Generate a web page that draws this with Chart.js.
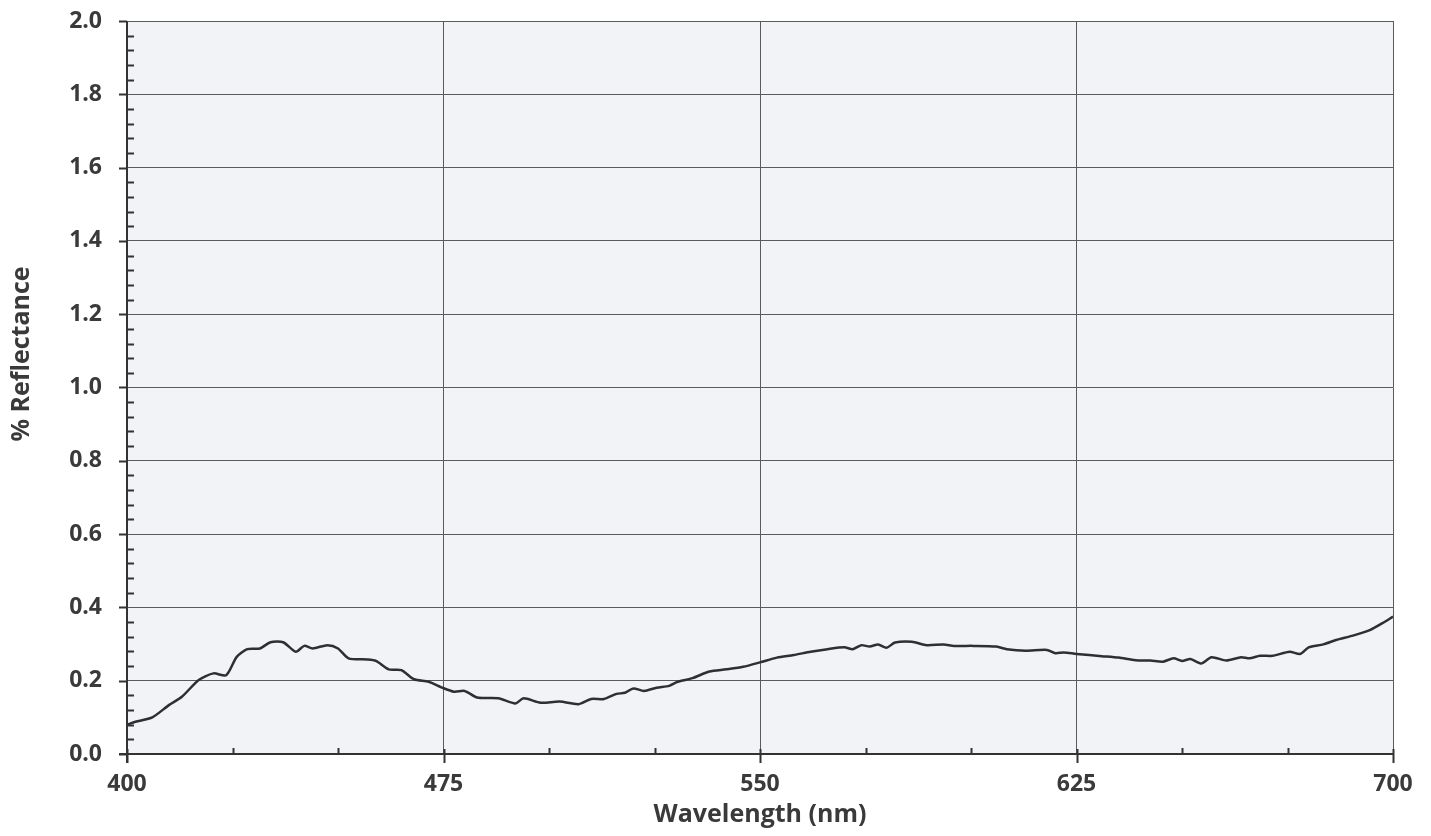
<!DOCTYPE html>
<html>
<head>
<meta charset="utf-8">
<title>% Reflectance</title>
<script src="https://cdn.jsdelivr.net/npm/chart.js@4"></script>
<style>
  html, body { margin: 0; padding: 0; background: #ffffff; }
  #wrap { width: 1431px; height: 836px; }
</style>
</head>
<body>
<div id="wrap"><canvas id="reflChart" width="1431" height="836"></canvas></div>
<script>
// wavelength (nm)
const wavelengths = [
  400, 402, 406, 410, 413, 417, 420.5, 423.5, 426, 428.5, 431.5, 434, 437, 440,
  442, 444, 447.5, 450, 452.5, 457, 459, 462, 465, 468, 471.5, 474.5, 477.5, 480,
  483, 488, 492, 494, 498, 502.5, 507, 510, 513, 516, 518, 520, 522.5, 525.5,
  528.5, 530.5, 534, 538, 542, 546, 550, 554, 558, 562, 566, 570, 572, 574, 576,
  578, 580, 582, 586, 589.5, 593.5, 596, 600.5, 606, 608.5, 613, 618, 620, 622,
  625, 631, 635, 639, 642.5, 645.5, 648, 650, 652, 654.5, 657, 660.5, 664, 666,
  668.5, 671.5, 675.5, 678, 680, 683.5, 686.5, 690.5, 694.5, 697.5, 700
];
// % reflectance at each wavelength
const reflectance = [
  0.080, 0.088, 0.100, 0.134, 0.156, 0.202, 0.220, 0.215, 0.265, 0.286, 0.288, 0.305, 0.305, 0.279,
  0.295, 0.288, 0.297, 0.288, 0.261, 0.258, 0.254, 0.231, 0.229, 0.204, 0.197, 0.182, 0.170, 0.172,
  0.154, 0.152, 0.138, 0.152, 0.140, 0.143, 0.136, 0.150, 0.150, 0.164, 0.167, 0.179, 0.172, 0.181,
  0.186, 0.197, 0.207, 0.225, 0.231, 0.238, 0.250, 0.263, 0.270, 0.279, 0.286, 0.291, 0.286, 0.297, 0.293,
  0.299, 0.290, 0.304, 0.306, 0.297, 0.299, 0.295, 0.295, 0.293, 0.286, 0.282, 0.284, 0.275, 0.277,
  0.273, 0.267, 0.263, 0.256, 0.255, 0.252, 0.261, 0.254, 0.259, 0.247, 0.264, 0.255, 0.264, 0.261,
  0.268, 0.268, 0.279, 0.273, 0.291, 0.299, 0.311, 0.323, 0.338, 0.357, 0.375
];
// axis ranges / tick steps
const xRange = [400, 700];
const xMajor = 75;
const xMinor = 25;
const yRange = [0, 2.0];
const yMajor = 0.2;
const yMinor = 0.04;

const textColor = "#3a3a3a";
const gridColor = "#5a5a5a";
const axisColor = "#333333";

const points = wavelengths.map((w, i) => ({ x: w, y: reflectance[i] }));

// Plot background, tick marks, axis lines and the y title
const frame = {
  id: "frame",
  beforeDraw(chart) {
    const { ctx, chartArea: a } = chart;
    ctx.save();
    ctx.fillStyle = "#f1f3f7";
    ctx.fillRect(a.left, a.top, a.right - a.left, a.bottom - a.top);
    ctx.restore();
  },
  afterDraw(chart) {
    const { ctx, chartArea: a, scales } = chart;
    const xs = scales.x, ys = scales.y;
    ctx.save();
    ctx.strokeStyle = axisColor;
    ctx.lineWidth = 2;
    // minor ticks on y (inside), major ticks (outside)
    for (let v = yRange[0]; v <= yRange[1] + 1e-9; v += yMinor) {
      const py = Math.round(ys.getPixelForValue(v)) + 0.5;
      const isMajor = Math.abs(v / yMajor - Math.round(v / yMajor)) < 1e-6;
      ctx.beginPath();
      if (isMajor) { ctx.moveTo(a.left - 8, py); ctx.lineTo(a.left, py); }
      else { ctx.moveTo(a.left, py); ctx.lineTo(a.left + 7, py); }
      ctx.stroke();
    }
    for (let v = xRange[0]; v <= xRange[1] + 1e-9; v += xMinor) {
      const px = Math.round(xs.getPixelForValue(v)) + 0.5;
      const isMajor = (v - xRange[0]) % xMajor === 0;
      ctx.beginPath();
      if (isMajor) { ctx.moveTo(px, a.bottom - 5); ctx.lineTo(px, a.bottom + 9); }
      else { ctx.moveTo(px, a.bottom - 6); ctx.lineTo(px, a.bottom); }
      ctx.stroke();
    }
    // axis lines
    ctx.beginPath();
    ctx.moveTo(a.left, a.top);
    ctx.lineTo(a.left, a.bottom + 9);
    ctx.moveTo(a.left - 8, a.bottom);
    ctx.lineTo(a.right, a.bottom);
    ctx.stroke();
    // y title
    ctx.fillStyle = textColor;
    ctx.font = "bold 25px 'Open Sans', sans-serif";
    ctx.textAlign = "center";
    ctx.textBaseline = "middle";
    ctx.translate(22, 354);
    ctx.rotate(-Math.PI / 2);
    ctx.fillText("% Reflectance", 0, 0);
    ctx.restore();
  },
};

const ctx = document.getElementById("reflChart").getContext("2d");
new Chart(ctx, {
  type: "line",
  data: {
    datasets: [
      {
        label: "% Reflectance",
        data: points,
        borderColor: "#2f2f2f",
        borderWidth: 2.5,
        pointRadius: 0,
        fill: false,
        tension: 0.25,
      },
    ],
  },
  options: {
    responsive: false,
    animation: false,
    layout: { padding: { top: 21, right: 38, left: 0, bottom: 0 } },
    plugins: {
      legend: { display: false },
      tooltip: { enabled: false },
    },
    scales: {
      x: {
        type: "linear",
        min: xRange[0],
        max: xRange[1],
        afterFit: (scale) => { scale.height = 82; },
        ticks: {
          stepSize: xMajor,
          color: textColor,
          font: { family: "'Open Sans', sans-serif", size: 23, weight: "bold" },
          padding: 17,
          maxRotation: 0,
          autoSkip: false,
        },
        grid: { color: gridColor, lineWidth: 1, drawTicks: false },
        border: { display: false },
        title: {
          display: true,
          text: "Wavelength (nm)",
          color: textColor,
          font: { family: "'Open Sans', sans-serif", size: 25, weight: "bold" },
          padding: { bottom: 6 },
        },
      },
      y: {
        min: yRange[0],
        max: yRange[1],
        afterFit: (scale) => { scale.width = 127; },
        ticks: {
          stepSize: yMajor,
          color: textColor,
          font: { family: "'Open Sans', sans-serif", size: 23, weight: "bold" },
          padding: 0,
          callback: (v) => v.toFixed(1),
        },
        grid: {
          color: gridColor,
          lineWidth: 1,
          drawTicks: true,
          tickLength: 25,
          tickColor: "rgba(0,0,0,0)",
        },
        border: { display: false },
      },
    },
  },
  plugins: [frame],
});
</script>
</body>
</html>
